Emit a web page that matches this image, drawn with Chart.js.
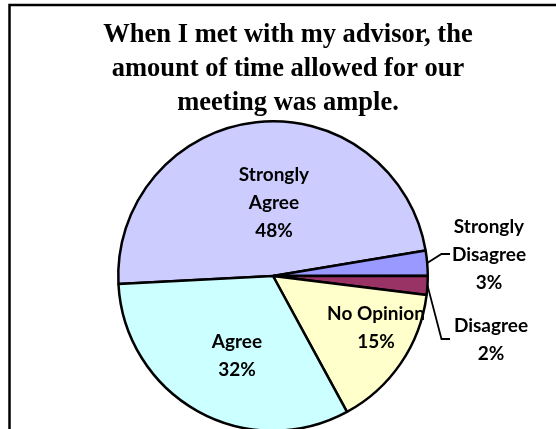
<!DOCTYPE html>
<html>
<head>
<meta charset="utf-8">
<script src="https://cdn.jsdelivr.net/npm/chart.js@4/dist/chart.umd.min.js"></script>
<style>
html, body { margin: 0; padding: 0; background: #fff; overflow: hidden; }
#wrap { position: relative; width: 556px; height: 440px; }
</style>
</head>
<body>
<div id="wrap"><canvas id="advisorChart"></canvas></div>
<script>
// chart data
const titleLines = ['When I met with my advisor, the', 'amount of time allowed for our', 'meeting was ample.'];
const categories = ['Strongly Agree', 'Strongly Disagree', 'Disagree', 'No Opinion', 'Agree'];
const shares = [48.2, 2.6, 2.0, 15.1, 32.1];
const labelLines = [['Strongly', 'Agree'], ['Strongly', 'Disagree'], ['Disagree'], ['No Opinion'], ['Agree']];

// look
const sliceColors = ['#CCCCFF', '#9999FF', '#993366', '#FFFFCC', '#CCFFFF'];
const labelSpots = [
    { dx: 1, dy: -95 },
    { dx: 216, dy: -43, leader: true },
    { dx: 218, dy: 56, leader: true },
    { dx: 103, dy: 44 },
    { dx: -36, dy: 72 }
];
const lineGap = 28;

const framePlugin = {
    id: 'frame',
    beforeDraw(chart) {
        const ctx = chart.ctx;
        ctx.save();
        ctx.fillStyle = '#fff';
        ctx.fillRect(0, 0, chart.width, chart.height);
        ctx.strokeStyle = '#000';
        ctx.lineWidth = 2.5;
        ctx.strokeRect(9.5, 5, 700, 700);
        ctx.fillStyle = '#000';
        ctx.font = 'bold 26.5px "Liberation Serif", "Times New Roman", serif';
        ctx.textAlign = 'center';
        ctx.textBaseline = 'alphabetic';
        titleLines.forEach((t, i) => ctx.fillText(t, 288, 41.5 + i * 34.3));
        ctx.restore();
    }
};

const labelPlugin = {
    id: 'sliceLabels',
    afterDatasetsDraw(chart) {
        const ctx = chart.ctx;
        const meta = chart.getDatasetMeta(0);
        const total = shares.reduce((a, b) => a + b, 0);
        ctx.save();
        ctx.fillStyle = '#000';
        ctx.strokeStyle = '#000';
        ctx.lineWidth = 1.8;
        ctx.font = 'bold 19px Lato, "Noto Sans", sans-serif';
        ctx.textAlign = 'center';
        ctx.textBaseline = 'alphabetic';
        meta.data.forEach((arc, i) => {
            const spot = labelSpots[i];
            const lines = labelLines[i].concat([Math.round(shares[i] / total * 100) + '%']);
            const x = arc.x + spot.dx;
            const y0 = arc.y + spot.dy;
            lines.forEach((t, j) => ctx.fillText(t, x, y0 + j * lineGap));
            if (spot.leader) {
                const mid = (arc.startAngle + arc.endAngle) / 2;
                const sx = arc.x + Math.cos(mid) * arc.outerRadius;
                const sy = arc.y + Math.sin(mid) * arc.outerRadius;
                const ly = y0 + (lines.length - 1) * lineGap / 2 - 7;
                ctx.beginPath();
                ctx.moveTo(sx, sy);
                ctx.lineTo(arc.x + 168.5, ly);
                ctx.lineTo(arc.x + 177, ly);
                ctx.stroke();
            }
        });
        ctx.restore();
    }
};

const ctx = document.getElementById('advisorChart').getContext('2d');
new Chart(ctx, {
    type: 'pie',
    data: {
        labels: categories,
        datasets: [{
            data: shares,
            backgroundColor: sliceColors,
            borderColor: '#000',
            borderWidth: 2.5,
            borderAlign: 'center'
        }]
    },
    options: {
        responsive: true,
        maintainAspectRatio: false,
        animation: false,
        rotation: 267,
        layout: { padding: { left: 117, right: 127, top: 120, bottom: 8 } },
        plugins: {
            legend: { display: false },
            tooltip: { enabled: false },
            title: { display: false }
        },
        events: []
    },
    plugins: [framePlugin, labelPlugin]
});
</script>
</body>
</html>
